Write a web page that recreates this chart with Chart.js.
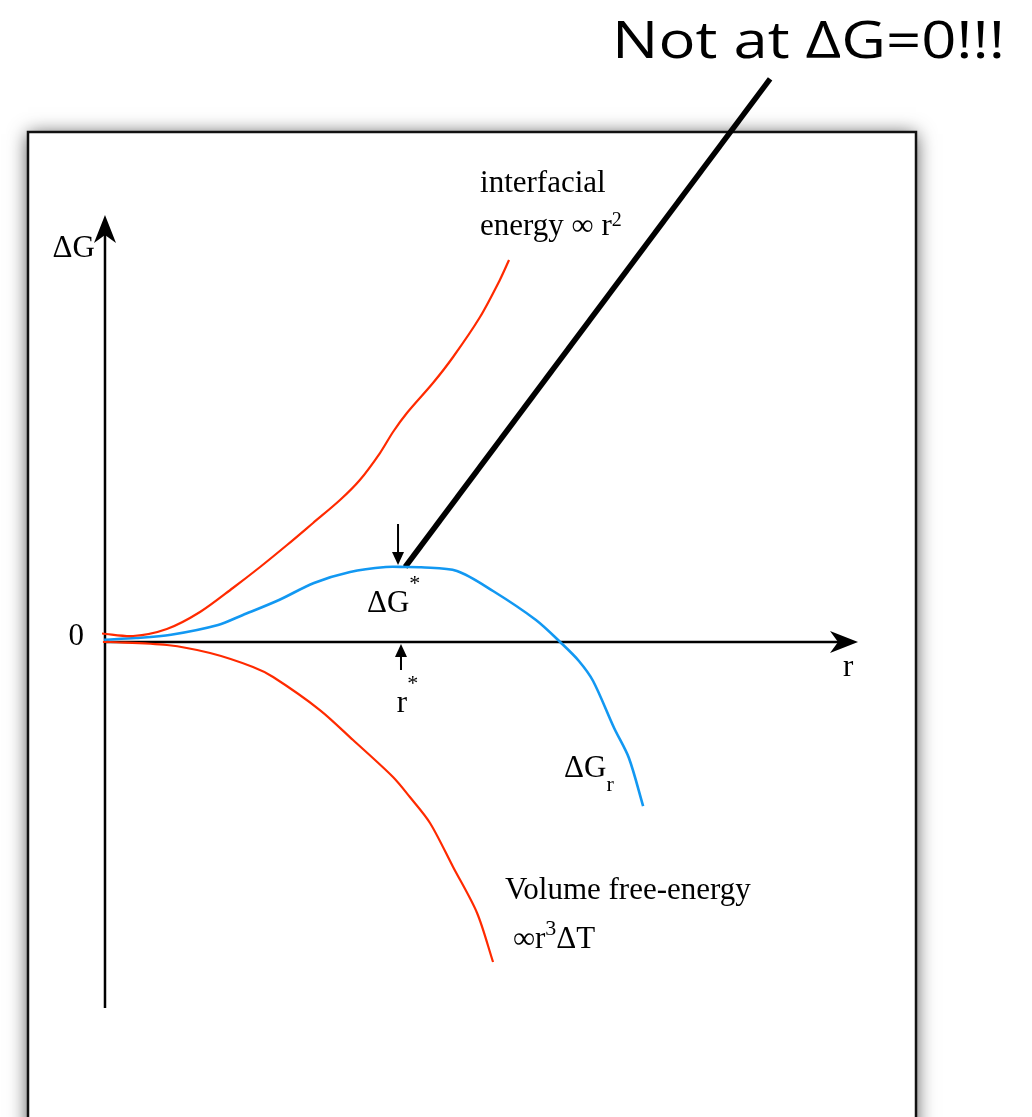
<!DOCTYPE html>
<html>
<head>
<meta charset="utf-8">
<script src="https://cdn.jsdelivr.net/npm/chart.js@4.4.1/dist/chart.umd.min.js"></script>
<style>
  html, body { margin: 0; padding: 0; background: #fff; }
  canvas { display: block; }
</style>
</head>
<body>
<canvas id="nucleation" width="1032" height="1117"></canvas>
<script>
// r measured in units of r*, ΔG in units of ΔG*
const interfacialR = [-0.01, 0.095, 0.209, 0.321, 0.432, 0.524, 0.615, 0.703, 0.794, 0.861, 0.929, 0.973, 1.02, 1.108, 1.176, 1.267, 1.334, 1.365];
const interfacialG = [0.113, 0.08, 0.173, 0.4, 0.72, 1.0, 1.293, 1.587, 1.893, 2.16, 2.52, 2.8, 3.053, 3.453, 3.8, 4.333, 4.827, 5.093];

const volumeR = [-0.007, 0.017, 0.209, 0.355, 0.5, 0.568, 0.726, 0.838, 0.973, 1.03, 1.098, 1.176, 1.257, 1.311];
const volumeG = [0, 0, -0.04, -0.147, -0.333, -0.467, -0.907, -1.307, -1.8, -2.067, -2.413, -3.0, -3.613, -4.267];

const totalR = [-0.003, 0.105, 0.223, 0.382, 0.466, 0.588, 0.706, 0.828, 0.949, 1.014, 1.068, 1.189, 1.311, 1.456, 1.541, 1.601, 1.649, 1.72, 1.77, 1.818];
const totalG = [0.031, 0.053, 0.097, 0.227, 0.36, 0.56, 0.787, 0.933, 1.0, 1.0, 0.996, 0.947, 0.68, 0.293, -0.013, -0.253, -0.52, -1.147, -1.547, -2.187];

// pointer from the barrier top up to the note
const calloutR = [1.014, 2.247];
const calloutG = [1.0, 7.507];

// axis extents
const rAxisEnd = 2.544;
const gAxisTop = 5.693;
const gAxisBottom = -4.88;

const rStar = 1.0;
const gStar = 1.0;

const RED = '#ff2a00';
const BLUE = '#1298f2';
const SERIF = '"Liberation Serif", "Times New Roman", serif';

const pts = (xs, ys) => xs.map((x, i) => ({ x: x, y: ys[i] }));

function arrowHead(ctx, tipX, tipY, dirX, dirY, len, half, notch) {
  const px = -dirY, py = dirX;
  const bx = tipX - dirX * len, by = tipY - dirY * len;
  ctx.beginPath();
  ctx.moveTo(tipX, tipY);
  ctx.lineTo(bx + px * half, by + py * half);
  ctx.lineTo(tipX - dirX * (len - notch), tipY - dirY * (len - notch));
  ctx.lineTo(bx - px * half, by - py * half);
  ctx.closePath();
  ctx.fill();
}

// draw a sequence of [text, size, dy] runs starting at x, on baseline y
function drawRuns(ctx, x, y, runs, align) {
  let total = 0;
  runs.forEach(r => {
    ctx.font = r[1] + 'px ' + SERIF;
    total += ctx.measureText(r[0]).width;
  });
  let cx = align === 'right' ? x - total : x;
  runs.forEach(r => {
    ctx.font = r[1] + 'px ' + SERIF;
    ctx.fillText(r[0], cx, y + (r[2] || 0));
    cx += ctx.measureText(r[0]).width;
  });
}

const sketchPlugin = {
  id: 'sketch',
  beforeDraw(chart) {
    const ctx = chart.ctx;
    ctx.save();
    ctx.fillStyle = '#fff';
    ctx.fillRect(0, 0, chart.width, chart.height);
    // slide frame with soft shadow
    ctx.shadowColor = 'rgba(0,0,0,0.7)';
    ctx.shadowBlur = 18;
    ctx.shadowOffsetY = 2;
    ctx.fillRect(28, 132, 888, 1020);
    ctx.shadowColor = 'transparent';
    ctx.lineWidth = 2.5;
    ctx.strokeStyle = '#111';
    ctx.strokeRect(28, 132, 888, 1020);
    ctx.restore();
  },
  beforeDatasetsDraw(chart) {
    const ctx = chart.ctx;
    const xs = chart.scales.x, ys = chart.scales.y;
    const x0 = xs.getPixelForValue(0), y0 = ys.getPixelForValue(0);
    const yTop = ys.getPixelForValue(gAxisTop);
    const yBot = ys.getPixelForValue(gAxisBottom);
    const xEnd = xs.getPixelForValue(rAxisEnd);
    ctx.save();
    ctx.strokeStyle = '#000';
    ctx.fillStyle = '#000';
    ctx.lineWidth = 2.5;
    ctx.beginPath();
    ctx.moveTo(x0, yBot);
    ctx.lineTo(x0, yTop + 10);
    ctx.moveTo(x0, y0);
    ctx.lineTo(xEnd - 10, y0);
    ctx.stroke();
    arrowHead(ctx, x0, yTop, 0, -1, 28, 11, 8);
    arrowHead(ctx, xEnd, y0, 1, 0, 28, 11, 8);

    // markers for r* and ΔG*
    const xr = xs.getPixelForValue(rStar);
    const xg = xs.getPixelForValue(0.99);
    const yPeakTip = ys.getPixelForValue(1.027);
    const yPeakTail = ys.getPixelForValue(1.573);
    ctx.lineWidth = 2;
    ctx.beginPath();
    ctx.moveTo(xg, yPeakTail);
    ctx.lineTo(xg, yPeakTip - 8);
    const yrTip = ys.getPixelForValue(0) + 2;
    const yrTail = ys.getPixelForValue(-0.373);
    ctx.moveTo(xr, yrTail);
    ctx.lineTo(xr, yrTip + 8);
    ctx.stroke();
    arrowHead(ctx, xg, yPeakTip, 0, 1, 13, 6, 0);
    arrowHead(ctx, xr, yrTip, 0, -1, 13, 6, 0);
    ctx.restore();
  },
  afterDraw(chart) {
    const ctx = chart.ctx;
    const xs = chart.scales.x, ys = chart.scales.y;
    const X = v => xs.getPixelForValue(v);
    const Y = v => ys.getPixelForValue(v);
    ctx.save();
    ctx.fillStyle = '#000';
    ctx.textBaseline = 'alphabetic';

    drawRuns(ctx, X(-0.034), Y(5.133), [['ΔG', 31]], 'right');
    drawRuns(ctx, X(-0.071), Y(-0.04), [['0', 31]], 'right');
    drawRuns(ctx, X(2.493), Y(-0.453), [['r', 31]]);
    drawRuns(ctx, X(0.885), Y(0.4), [['ΔG', 31], ['*', 22, -22]]);
    drawRuns(ctx, X(0.986), Y(-0.933), [['r', 31], ['*', 22, -22]]);
    drawRuns(ctx, X(1.551), Y(-1.8), [['ΔG', 31], ['r', 22, 14]]);
    drawRuns(ctx, X(1.267), Y(6.0), [['interfacial', 31]]);
    drawRuns(ctx, X(1.267), Y(5.427), [['energy \u221E r', 31], ['2', 20, -9]]);
    drawRuns(ctx, X(1.351), Y(-3.427), [['Volume free-energy', 31]]);
    drawRuns(ctx, X(1.378), Y(-4.08), [['\u221Er', 31], ['3', 22, -13], ['ΔT', 31]]);

    // headline note, stretched sideways to span its slot
    const note = 'Not at ΔG=0!!!';
    const slot = 393;
    ctx.font = '52px "Open Sans", Lato, sans-serif';
    const plain = ctx.measureText(note).width;
    const sx = Math.min(1.3, Math.max(0.8, slot / plain));
    ctx.translate(X(3.041) - slot, Y(7.79));
    ctx.scale(sx, 1);
    ctx.textAlign = 'left';
    ctx.fillText(note, 0, 0);
    ctx.restore();
  }
};

new Chart(document.getElementById('nucleation'), {
  type: 'scatter',
  data: {
    datasets: [
      {
        label: 'interfacial energy',
        data: pts(interfacialR, interfacialG),
        borderColor: RED,
        borderWidth: 2.2,
        tension: 0.3
      },
      {
        label: 'volume free-energy',
        data: pts(volumeR, volumeG),
        borderColor: RED,
        borderWidth: 2.2,
        tension: 0.3
      },
      {
        label: 'ΔGr',
        data: pts(totalR, totalG),
        borderColor: BLUE,
        borderWidth: 2.6,
        tension: 0.3
      },
      {
        label: 'callout',
        data: pts(calloutR, calloutG),
        borderColor: '#000',
        borderWidth: 5.5,
        tension: 0
      }
    ]
  },
  options: {
    responsive: false,
    animation: false,
    showLine: true,
    elements: { point: { radius: 0, hoverRadius: 0 } },
    layout: { padding: 0 },
    plugins: {
      legend: { display: false },
      tooltip: { enabled: false }
    },
    scales: {
      x: { type: 'linear', display: false, min: -0.3547, max: 3.1318 },
      y: { type: 'linear', display: false, min: -6.3333, max: 8.56 }
    }
  },
  plugins: [sketchPlugin]
});
</script>
</body>
</html>
